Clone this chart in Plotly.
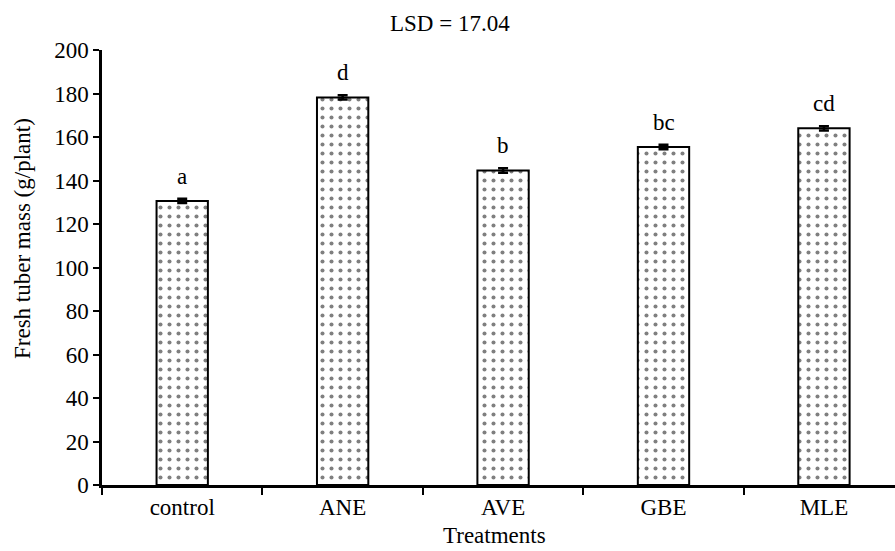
import plotly.graph_objects as go

treatments = ["control", "ANE", "AVE", "GBE", "MLE"]
mass = [130.6, 178.2, 144.6, 155.4, 164.0]
errors = [1.0, 1.0, 1.0, 1.0, 1.0]
letters = ["a", "d", "b", "bc", "cd"]
y_ticks = [0, 20, 40, 60, 80, 100, 120, 140, 160, 180, 200]
title_text = "LSD = 17.04"

FONT = "Liberation Serif"
FS = 23

# plot area in pixels
L, R, T, B = 102, 895, 50, 485
PW, PH = R - L, B - T


def px_x(x):
    return (x - L) / PW


def px_y(y):
    return (B - y) / PH


fig = go.Figure()
fig.add_trace(go.Bar(
    x=treatments, y=mass,
    width=0.32,
    marker=dict(color="white", line=dict(color="black", width=2),
                pattern=dict(shape=".", fgcolor="black", bgcolor="white",
                             size=9, solidity=0.16)),
    error_y=dict(type="data", array=errors, visible=True, color="black",
                 thickness=2.5, width=5),
    showlegend=False,
))

for t, v, e, l in zip(treatments, mass, errors, letters):
    fig.add_annotation(x=t, y=v + e, text=l, showarrow=False, xref="x", yref="y",
                       yanchor="bottom", yshift=8,
                       font=dict(family=FONT, size=FS, color="black"))

fig.add_annotation(x=px_x(450), y=px_y(23), xref="paper", yref="paper", text=title_text,
                   showarrow=False, xanchor="center", yanchor="middle",
                   font=dict(family=FONT, size=FS, color="black"))
fig.add_annotation(x=px_x(494), y=px_y(550), xref="paper", yref="paper",
                   text="Treatments", showarrow=False, xanchor="center", yanchor="bottom",
                   font=dict(family=FONT, size=FS, color="black"))
fig.add_annotation(x=px_x(22), y=px_y(239), xref="paper", yref="paper",
                   text="Fresh tuber mass (g/plant)", textangle=-90, showarrow=False,
                   xanchor="center", yanchor="middle",
                   font=dict(family=FONT, size=FS, color="black"))

fig.update_layout(
    width=895, height=551,
    margin=dict(l=L, r=895 - R, t=T, b=551 - B, autoexpand=False),
    paper_bgcolor="white", plot_bgcolor="white",
    font=dict(family=FONT, size=FS, color="black"),
)

fig.update_xaxes(
    type="category", range=[-0.5, 4.443], tickson="boundaries",
    ticks="outside", ticklen=7, tickwidth=2, tickcolor="black",
    showline=True, linecolor="black", linewidth=2.5, showgrid=False,
    tickfont=dict(family=FONT, size=FS, color="black"),
)
fig.update_yaxes(
    range=[0, 200], tickvals=y_ticks, ticks="outside", ticklen=6, tickwidth=2,
    tickcolor="black", showline=True, linecolor="black", linewidth=2.5,
    showgrid=False, zeroline=False,
    tickfont=dict(family=FONT, size=FS, color="black"),
)

fig.write_html(
    "out.html",
    config={"displayModeBar": False},
    post_script="document.body.style.margin='0';document.body.style.overflow='hidden';",
)
